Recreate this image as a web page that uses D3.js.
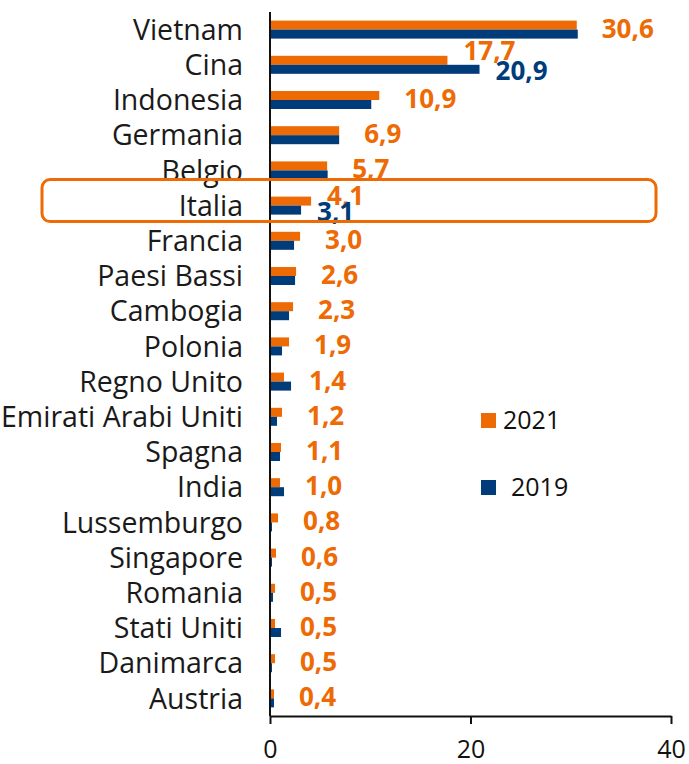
<!DOCTYPE html>
<html>
<head>
<meta charset="utf-8">
<script src="https://cdn.jsdelivr.net/npm/d3@7"></script>
<style>
  body { margin: 0; background: #fff; }
  svg { display: block; font-family: "Open Sans", "DejaVu Sans", sans-serif; }
</style>
</head>
<body>
<svg id="chart" width="689" height="764"></svg>
<script>
const countries = [
  "Vietnam", "Cina", "Indonesia", "Germania", "Belgio", "Italia", "Francia",
  "Paesi Bassi", "Cambogia", "Polonia", "Regno Unito", "Emirati Arabi Uniti",
  "Spagna", "India", "Lussemburgo", "Singapore", "Romania", "Stati Uniti",
  "Danimarca", "Austria"
];
const values2021 = [30.6, 17.7, 10.9, 6.9, 5.7, 4.1, 3.0, 2.6, 2.3, 1.9, 1.4, 1.2, 1.1, 1.0, 0.8, 0.6, 0.5, 0.5, 0.5, 0.4];
const values2019 = [30.7, 20.9, 10.1, 6.9, 5.75, 3.1, 2.4, 2.5, 1.9, 1.2, 2.1, 0.7, 1.0, 1.4, 0.2, 0.2, 0.3, 1.1, 0.2, 0.4];
const series = ["2021", "2019"];
const xTicks = [0, 20, 40];
const blueLabelled = ["Cina", "Italia"];
const highlighted = "Italia";

const orange = "#ED6A04";
const blue = "#003B7A";
const colors = { "2021": orange, "2019": blue };

const svg = d3.select("#chart");

const xScale = d3.scaleLinear().domain([0, 40]).range([270, 671]);

const yScale = d3
  .scaleBand()
  .domain(countries)
  .range([12, 716])
  .padding(0);

const barH = 9;
const ySeries = d3
  .scaleBand()
  .domain(series)
  .range([-barH, barH]);

const fmt = (v) => d3.format(".1f")(v).replace(".", ",");
const mid = (c) => yScale(c) + yScale.bandwidth() / 2;

const rows = countries.map((c, i) => ({
  country: c,
  "2021": values2021[i],
  "2019": values2019[i],
}));

// bars
svg
  .append("g")
  .selectAll("g")
  .data(rows)
  .enter()
  .append("g")
  .attr("transform", (d) => `translate(0, ${mid(d.country)})`)
  .selectAll("rect")
  .data((d) => series.map((s) => ({ key: s, value: d[s] })))
  .enter()
  .append("rect")
  .attr("x", xScale(0))
  .attr("y", (d) => ySeries(d.key))
  .attr("width", (d) => xScale(d.value) - xScale(0))
  .attr("height", ySeries.bandwidth())
  .attr("fill", (d) => colors[d.key]);

// category labels
svg
  .append("g")
  .selectAll("text")
  .data(countries)
  .enter()
  .append("text")
  .attr("x", 243)
  .attr("y", (d) => mid(d))
  .attr("dy", "0.36em")
  .attr("text-anchor", "end")
  .style("font-size", "28.5px")
  .attr("fill", "#1a1a1a")
  .text((d) => d);

// value labels
const labels = svg.append("g").style("font-size", "26px").style("font-weight", "bold");

labels
  .selectAll(".lab-2021")
  .data(rows)
  .enter()
  .append("text")
  .attr("class", "lab-2021")
  .attr("x", (d) => xScale(d["2021"]) + (blueLabelled.includes(d.country) ? 16 : 25))
  .attr("y", (d) => mid(d.country) + (blueLabelled.includes(d.country) ? (d.country === "Cina" ? -5 : -1) : 8))
  .attr("fill", orange)
  .text((d) => fmt(d["2021"]));

labels
  .selectAll(".lab-2019")
  .data(rows.filter((d) => blueLabelled.includes(d.country)))
  .enter()
  .append("text")
  .attr("class", "lab-2019")
  .attr("x", (d) => xScale(d["2019"]) + 16)
  .attr("y", (d) => mid(d.country) + 15)
  .attr("fill", blue)
  .text((d) => fmt(d["2019"]));

// axes
svg
  .append("g")
  .attr("transform", `translate(0, ${yScale.range()[1]})`)
  .call(d3.axisBottom(xScale).tickValues(xTicks).tickSize(8).tickSizeOuter(0))
  .call((g) => g.select(".domain").attr("stroke", "#111").attr("stroke-width", 2))
  .call((g) => g.selectAll(".tick line").attr("stroke", "#111").attr("stroke-width", 2))
  .call((g) =>
    g
      .selectAll(".tick text")
      .attr("y", 24)
      .attr("fill", "#111")
      .style("font-size", "25px")
      .style("font-family", "Open Sans, sans-serif")
  );

svg
  .append("line")
  .attr("x1", xScale(0))
  .attr("x2", xScale(0))
  .attr("y1", yScale.range()[0])
  .attr("y2", yScale.range()[1])
  .attr("stroke", "#111")
  .attr("stroke-width", 2);

// highlight box
svg
  .append("rect")
  .attr("x", 42)
  .attr("y", mid(highlighted) - 26)
  .attr("width", 614)
  .attr("height", 42)
  .attr("rx", 8)
  .attr("ry", 8)
  .attr("fill", "none")
  .attr("stroke", orange)
  .attr("stroke-width", 3);

// legend
const legend = svg.append("g");
const legendY = { "2021": 413, "2019": 480 };
const legendTextX = { "2021": 503, "2019": 511 };

legend
  .selectAll("rect")
  .data(series)
  .enter()
  .append("rect")
  .attr("x", 481)
  .attr("y", (d) => legendY[d])
  .attr("width", 15)
  .attr("height", 15)
  .attr("fill", (d) => colors[d]);

legend
  .selectAll("text")
  .data(series)
  .enter()
  .append("text")
  .attr("x", (d) => legendTextX[d])
  .attr("y", (d) => legendY[d] + 16)
  .style("font-size", "25px")
  .attr("fill", "#111")
  .text((d) => d);
</script>
</body>
</html>
